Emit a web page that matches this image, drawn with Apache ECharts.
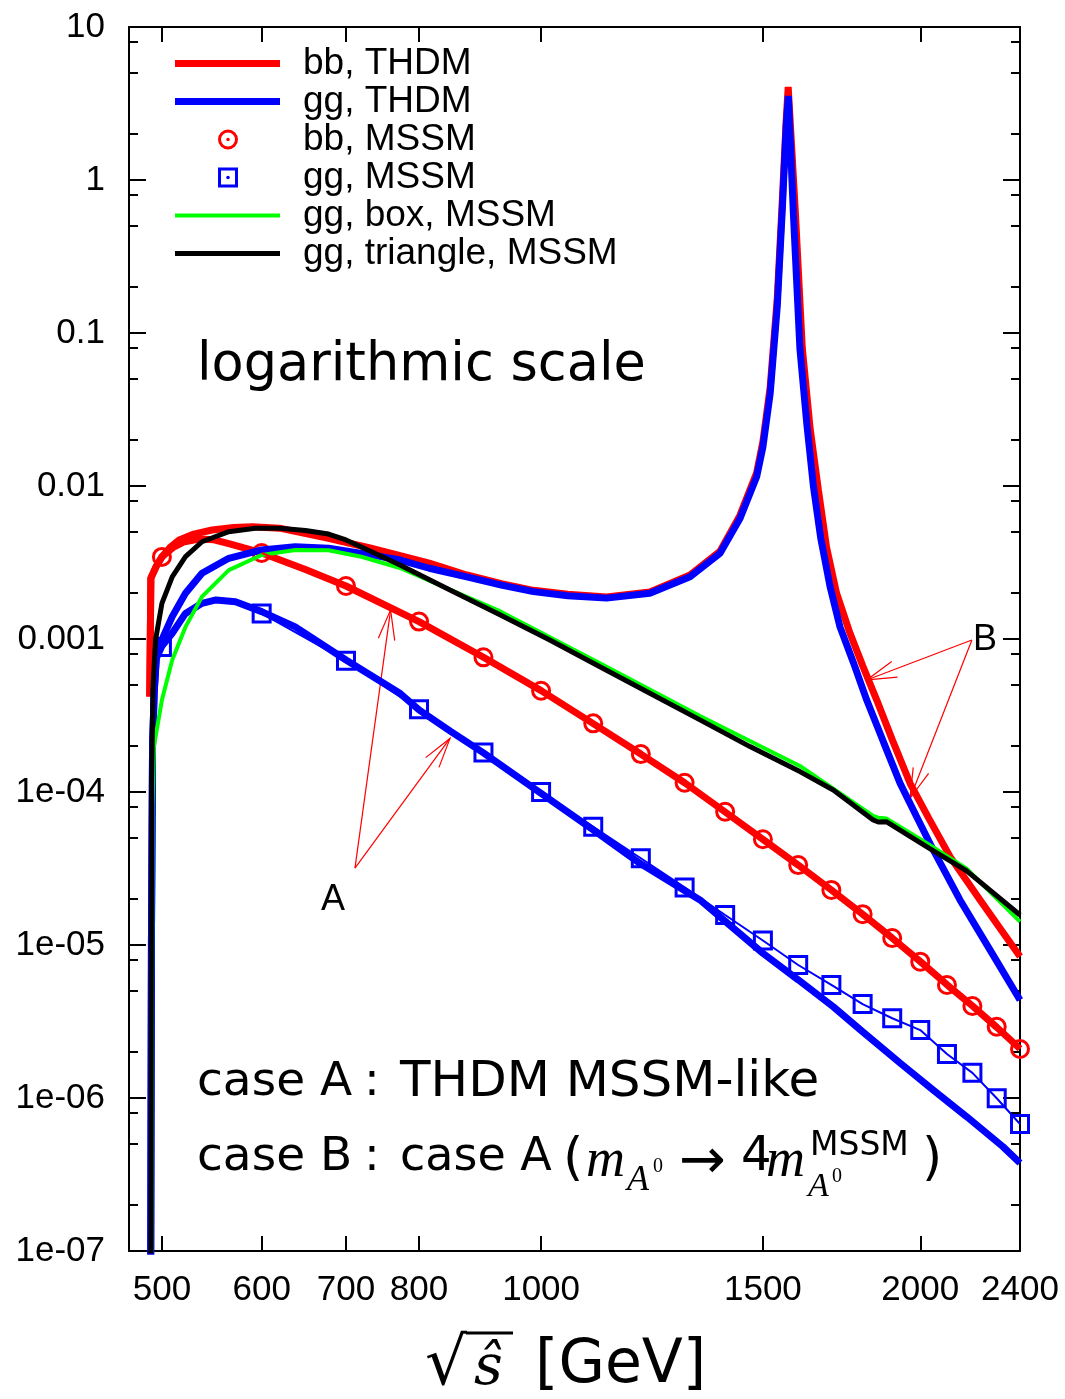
<!DOCTYPE html>
<html>
<head>
<meta charset="utf-8">
<script src="https://cdn.jsdelivr.net/npm/echarts@6/dist/echarts.min.js"></script>
<style>
html, body { margin: 0; padding: 0; background: #fff; }
#main { width: 1065px; height: 1399px; }
</style>
</head>
<body>
<div id="main"></div>
<script>
// sqrt(s) in GeV and cross section values

// bb, THDM  case A
var bbThdmAX = [489, 490, 495, 500, 510, 520, 535, 550, 565, 580, 600, 650, 700, 800, 900, 1000, 1100, 1200, 1300, 1400, 1500, 1600, 1700, 1800, 1900, 2000, 2100, 2200, 2300, 2400];
var bbThdmAY = [4.2e-4, 2.5e-3, 3.0e-3, 3.44e-3, 3.95e-3, 4.3e-3, 4.5e-3, 4.45e-3, 4.2e-3, 3.95e-3, 3.65e-3, 2.85e-3, 2.22e-3, 1.30e-3, 7.6e-4, 4.6e-4, 2.8e-4, 1.77e-4, 1.15e-4, 7.4e-5, 4.9e-5, 3.33e-5, 2.29e-5, 1.59e-5, 1.11e-5, 7.8e-6, 5.5e-6, 4.0e-6, 2.9e-6, 2.1e-6];

// bb, THDM  case B (resonance)
var bbThdmBX = [489, 490, 495, 500, 508, 516, 530, 548, 570, 590, 620, 678, 730, 773, 815, 873, 930, 986, 1050, 1127, 1220, 1313, 1387, 1438, 1483, 1500, 1520, 1540, 1555, 1565, 1571, 1580, 1592, 1612, 1635, 1660, 1685, 1716, 1759, 1800, 1847, 1900, 1963, 2030, 2112, 2231, 2310, 2400];
var bbThdmBY = [4.2e-4, 2.5e-3, 3.0e-3, 3.44e-3, 4.0e-3, 4.44e-3, 4.85e-3, 5.16e-3, 5.35e-3, 5.42e-3, 5.3e-3, 4.55e-3, 3.95e-3, 3.5e-3, 3.13e-3, 2.62e-3, 2.3e-3, 2.08e-3, 1.96e-3, 1.88e-3, 2.03e-3, 2.62e-3, 3.75e-3, 6.4e-3, 1.22e-2, 1.95e-2, 4.4e-2, 0.17, 0.8, 2.4, 4.05, 1.8, 0.6, 8.0e-2, 2.4e-2, 9.5e-3, 4.0e-3, 2.0e-3, 1.09e-3, 6.7e-4, 3.99e-4, 2.2e-4, 1.14e-4, 6.8e-5, 3.78e-5, 1.97e-5, 1.31e-5, 8.4e-6];

// gg, THDM  case A
var ggThdmAX = [489.6, 490.5, 491.5, 493, 495, 500, 509.5, 522, 538, 552, 572, 600, 638, 700, 773, 800, 847, 900, 1000, 1100, 1198, 1337, 1400, 1500, 1600, 1706, 1800, 1928, 2050, 2177, 2326, 2400];
var ggThdmAY = [1e-8, 1e-5, 2.0e-4, 4.5e-4, 7.5e-4, 9.0e-4, 1.09e-3, 1.47e-3, 1.71e-3, 1.80e-3, 1.75e-3, 1.51e-3, 1.20e-3, 7.29e-4, 4.4e-4, 3.44e-4, 2.5e-4, 1.80e-4, 9.8e-5, 5.65e-5, 3.42e-5, 1.97e-5, 1.43e-5, 8.83e-6, 5.92e-6, 3.95e-6, 2.71e-6, 1.69e-6, 1.12e-6, 7.55e-7, 4.81e-7, 3.76e-7];

// gg, THDM  case B (resonance)
var ggThdmBX = [489.6, 490.5, 491.5, 493, 495, 500, 509.5, 522, 538, 565, 600, 638, 678, 725, 773, 815, 873, 930, 986, 1050, 1127, 1220, 1313, 1387, 1438, 1483, 1500, 1520, 1540, 1555, 1565, 1571.4, 1578, 1586, 1605, 1625, 1645, 1667, 1696, 1727, 1770, 1813.5, 1870, 1927.5, 1985, 2048, 2150.6, 2270, 2400];
var ggThdmBY = [1e-8, 1e-5, 2.0e-4, 4.5e-4, 8.0e-4, 9.9e-4, 1.40e-3, 1.99e-3, 2.69e-3, 3.37e-3, 3.82e-3, 4.01e-3, 3.92e-3, 3.6e-3, 3.28e-3, 2.9e-3, 2.55e-3, 2.25e-3, 2.04e-3, 1.92e-3, 1.85e-3, 1.99e-3, 2.55e-3, 3.63e-3, 6.1e-3, 1.15e-2, 1.8e-2, 4.0e-2, 0.15, 0.7, 2.2, 3.54, 1.6, 0.6, 7.9e-2, 2.6e-2, 1.0e-2, 4.6e-3, 2.2e-3, 1.2e-3, 7.0e-4, 3.99e-4, 2.12e-4, 1.14e-4, 7.0e-5, 4.18e-5, 1.97e-5, 9.4e-6, 4.37e-6];

// gg, box, MSSM
var ggBoxX = [490, 491.5, 492.7, 500, 509.5, 522, 538, 565, 600, 638, 678, 720, 772.6, 927.5, 1113.5, 1337, 1605, 1835, 1852, 1881, 2023, 2177, 2400];
var ggBoxY = [1e-8, 8e-5, 1.98e-4, 3.99e-4, 7.29e-4, 1.2e-3, 1.89e-3, 2.82e-3, 3.54e-3, 3.82e-3, 3.8e-3, 3.45e-3, 2.91e-3, 1.52e-3, 6.93e-4, 3.14e-4, 1.48e-4, 6.97e-5, 6.8e-5, 6.7e-5, 4.64e-5, 3.15e-5, 1.42e-5];

// gg, triangle, MSSM
var ggTriX = [489.8, 490.7, 492, 494.2, 500, 509.5, 522, 538, 565, 593, 620, 650, 678, 700, 720, 772.6, 846.6, 927.5, 1016, 1113.5, 1220, 1337, 1465, 1605, 1706, 1835, 1852, 1881, 2023, 2177, 2400];
var ggTriY = [1e-8, 1.2e-4, 5e-4, 9.85e-4, 1.71e-3, 2.55e-3, 3.45e-3, 4.32e-3, 5.03e-3, 5.29e-3, 5.29e-3, 5.12e-3, 4.85e-3, 4.44e-3, 3.99e-3, 3.05e-3, 2.09e-3, 1.44e-3, 9.85e-4, 6.59e-4, 4.42e-4, 2.96e-4, 1.98e-4, 1.36e-4, 1.03e-4, 6.56e-5, 6.37e-5, 6.39e-5, 4.39e-5, 3.05e-5, 1.57e-5];

// MSSM points (markers)
var mssmX = [500, 600, 700, 800, 900, 1000, 1100, 1200, 1300, 1400, 1500, 1600, 1700, 1800, 1900, 2000, 2100, 2200, 2300, 2400];
var bbMssmY = [3.44e-3, 3.65e-3, 2.22e-3, 1.30e-3, 7.59e-4, 4.59e-4, 2.81e-4, 1.77e-4, 1.15e-4, 7.43e-5, 4.91e-5, 3.33e-5, 2.29e-5, 1.59e-5, 1.11e-5, 7.78e-6, 5.48e-6, 3.99e-6, 2.92e-6, 2.09e-6];
var ggMssmY = [8.87e-4, 1.47e-3, 7.22e-4, 3.47e-4, 1.81e-4, 1.00e-4, 5.93e-5, 3.69e-5, 2.38e-5, 1.57e-5, 1.07e-5, 7.40e-6, 5.48e-6, 4.11e-6, 3.32e-6, 2.78e-6, 1.94e-6, 1.46e-6, 9.96e-7, 6.76e-7];

// annotation arrows [x0, y0, x1(tip), y1(tip)]
var arrowsA = [[711.6, 3.18e-5, 759.5, 1.55e-3], [711.6, 3.18e-5, 846.6, 2.24e-4]];
var arrowsB = [[2198, 9.85e-4, 1813.5, 5.4e-4], [2198, 9.85e-4, 1963, 9.1e-5]];

// axis ticks
var xMin = 470.8, xMax = 2400;
var xTickValues = [500, 600, 700, 800, 1000, 1500, 2000];
var xLabelValues = [500, 600, 700, 800, 1000, 1500, 2000, 2400];
var yTickLabels = ['1e-07', '1e-06', '1e-05', '1e-04', '0.001', '0.01', '0.1', '1', '10'];
var yMinorMantissa = [2, 5, 8];

var lg = Math.log10;
function pts(xs, ys) {
    return xs.map(function (x, i) { return [lg(x), lg(ys[i])]; });
}
var yMinorTicks = [];
for (var k = -7; k < 1; k++) {
    yMinorMantissa.forEach(function (m) { yMinorTicks.push(k + lg(m)); });
}

var RED = '#ff0000', BLUE = '#0000ff', GREEN = '#00ff00', BLACK = '#000000';
var tickFont = { fontFamily: 'Liberation Sans', fontSize: 35, color: '#000' };

// legend icons, drawn inside a 123 x 30 box (two tiny corner points pin the box)
var box = 'M0,0L0.01,0L0,0.01Z M123,30L122.99,30L123,29.99Z ';
function barIcon(t) {
    var a = 15 - t / 2, b = 15 + t / 2;
    return 'path://' + box + 'M0,' + a + 'L105,' + a + 'L105,' + b + 'L0,' + b + 'Z';
}
var ringIcon = 'path://' + box +
    'M43,15A10,10,0,1,1,63,15A10,10,0,1,1,43,15Z ' +
    'M46,15A7,7,0,1,0,60,15A7,7,0,1,0,46,15Z ' +
    'M51.2,15A1.8,1.8,0,1,1,54.8,15A1.8,1.8,0,1,1,51.2,15Z';
var squareIcon = 'path://' + box +
    'M43,5L63,5L63,25L43,25Z M46,8L46,22L60,22L60,8Z ' +
    'M51.2,15A1.8,1.8,0,1,1,54.8,15A1.8,1.8,0,1,1,51.2,15Z';

function lineSeries(name, data, color, width) {
    return {
        name: name, type: 'line', data: data,
        showSymbol: false, symbol: 'none', silent: true,
        lineStyle: { color: color, width: width },
        itemStyle: { color: color }
    };
}
function markerSeries(name, ys, color, symbol) {
    return {
        name: name, type: 'scatter', data: pts(mssmX, ys),
        symbol: symbol, symbolSize: 17, silent: true,
        itemStyle: { color: 'transparent', borderColor: color, borderWidth: 3, opacity: 1 }
    };
}
function legendItem(name, icon, color) {
    return { name: name, icon: icon, itemStyle: { color: color, borderWidth: 0, opacity: 1 } };
}
function renderArrow(params, api) {
    var p0 = api.coord([api.value(0), api.value(1)]);
    var p1 = api.coord([api.value(2), api.value(3)]);
    var dx = p1[0] - p0[0], dy = p1[1] - p0[1];
    var len = Math.sqrt(dx * dx + dy * dy);
    var ux = -dx / len, uy = -dy / len;
    var head = 31, c = Math.cos(0.27), s = Math.sin(0.27);
    var h1 = [p1[0] + head * (ux * c - uy * s), p1[1] + head * (ux * s + uy * c)];
    var h2 = [p1[0] + head * (ux * c + uy * s), p1[1] + head * (-ux * s + uy * c)];
    var st = { stroke: RED, lineWidth: 1.2, fill: 'none' };
    return {
        type: 'group',
        children: [
            { type: 'line', shape: { x1: p0[0], y1: p0[1], x2: p1[0], y2: p1[1] }, style: st },
            { type: 'polyline', shape: { points: [h1, p1, h2] }, style: st }
        ]
    };
}
function arrowData(list) {
    return list.map(function (a) { return [lg(a[0]), lg(a[1]), lg(a[2]), lg(a[3])]; });
}

function txt(x, y, text, size, family, extra) {
    var style = { text: text, fontSize: size, fontFamily: family, fill: '#000', align: 'left', verticalAlign: 'middle' };
    if (extra) { for (var key in extra) style[key] = extra[key]; }
    return { type: 'text', x: x, y: y, z: 10, style: style, silent: true };
}
var SANS = 'DejaVu Sans', SERIF = 'Liberation Serif';

var axisLineStyle = { onZero: false, lineStyle: { color: '#000', width: 2 } };

var chart = echarts.init(document.getElementById('main'));
chart.setOption({
    animation: false,
    backgroundColor: '#fff',
    grid: [
        { left: 129, top: 27, width: 891, height: 1224, show: false },
        { left: 129, top: 27, width: 891, height: 1224, show: false }
    ],
    legend: {
        orient: 'vertical', left: 175, top: 45, padding: 0,
        itemWidth: 123, itemHeight: 30, itemGap: 1.0,
        selectedMode: false,
        textStyle: { fontFamily: 'Liberation Sans', fontSize: 37, color: '#000' },
        data: [
            legendItem('bb, THDM', barIcon(7), RED),
            legendItem('gg, THDM', barIcon(7), BLUE),
            legendItem('bb, MSSM', ringIcon, RED),
            legendItem('gg, MSSM', squareIcon, BLUE),
            legendItem('gg, box, MSSM', barIcon(4), GREEN),
            legendItem('gg, triangle, MSSM', barIcon(5), BLACK)
        ]
    },
    xAxis: [
        {
            type: 'value', gridIndex: 0, position: 'bottom',
            min: lg(xMin), max: lg(xMax),
            axisLine: axisLineStyle,
            axisTick: { inside: true, length: 15, customValues: xTickValues.map(lg), lineStyle: { color: '#000', width: 2 } },
            axisLabel: {
                customValues: xLabelValues.map(lg), margin: 22,
                fontFamily: tickFont.fontFamily, fontSize: tickFont.fontSize, color: tickFont.color,
                formatter: function (v) { return String(Math.round(Math.pow(10, v))); }
            },
            splitLine: { show: false }
        },
        {
            type: 'value', gridIndex: 0, position: 'top',
            min: lg(xMin), max: lg(xMax),
            axisLine: axisLineStyle,
            axisTick: { inside: true, length: 15, customValues: xTickValues.map(lg), lineStyle: { color: '#000', width: 2 } },
            axisLabel: { show: false },
            splitLine: { show: false }
        },
        { type: 'value', gridIndex: 1, min: lg(xMin), max: lg(xMax), show: false }
    ],
    yAxis: [
        {
            type: 'value', gridIndex: 0, position: 'left',
            min: -7, max: 1, interval: 1,
            axisLine: axisLineStyle,
            axisTick: { inside: true, length: 17, lineStyle: { color: '#000', width: 2 } },
            axisLabel: {
                margin: 24,
                fontFamily: tickFont.fontFamily, fontSize: tickFont.fontSize, color: tickFont.color,
                formatter: function (v) { return yTickLabels[Math.round(v) + 7]; }
            },
            splitLine: { show: false }
        },
        {
            type: 'value', gridIndex: 0, position: 'right',
            min: -7, max: 1, interval: 1,
            axisLine: axisLineStyle,
            axisTick: { inside: true, length: 17, lineStyle: { color: '#000', width: 2 } },
            axisLabel: { show: false },
            splitLine: { show: false }
        },
        {
            type: 'value', gridIndex: 1, position: 'left',
            min: -7, max: 1,
            axisLine: { show: false, onZero: false },
            axisTick: { inside: true, length: 9, customValues: yMinorTicks, lineStyle: { color: '#000', width: 2 } },
            axisLabel: { show: false },
            splitLine: { show: false }
        },
        {
            type: 'value', gridIndex: 1, position: 'right',
            min: -7, max: 1,
            axisLine: { show: false, onZero: false },
            axisTick: { inside: true, length: 9, customValues: yMinorTicks, lineStyle: { color: '#000', width: 2 } },
            axisLabel: { show: false },
            splitLine: { show: false }
        }
    ],
    series: [
        lineSeries('bb, THDM', pts(bbThdmAX, bbThdmAY), RED, 7),
        lineSeries('bb, THDM', pts(bbThdmBX, bbThdmBY), RED, 7),
        lineSeries('gg, THDM', pts(ggThdmAX, ggThdmAY), BLUE, 7),
        lineSeries('gg, THDM', pts(ggThdmBX, ggThdmBY), BLUE, 7),
        lineSeries('gg, box, MSSM', pts(ggBoxX, ggBoxY), GREEN, 4),
        lineSeries('gg, triangle, MSSM', pts(ggTriX, ggTriY), BLACK, 5),
        // thin lines joining the MSSM points (the first one sits on the threshold rise)
        lineSeries('bb, MSSM line', pts(mssmX.slice(1), bbMssmY.slice(1)), RED, 2),
        lineSeries('gg, MSSM line', pts(mssmX.slice(1), ggMssmY.slice(1)), BLUE, 2),
        markerSeries('bb, MSSM', bbMssmY, RED, 'circle'),
        markerSeries('gg, MSSM', ggMssmY, BLUE, 'rect'),
        {
            name: 'arrows', type: 'custom', silent: true,
            data: arrowData(arrowsA.concat(arrowsB)),
            renderItem: renderArrow
        }
    ],
    graphic: [
        txt(333, 900, 'A', 36, 'Liberation Sans', { align: 'center' }),
        txt(985, 640, 'B', 36, 'Liberation Sans', { align: 'center' }),
        txt(197, 366, 'logarithmic scale', 52.5, SANS),
        txt(197, 1083, 'case A', 47, SANS),
        txt(364, 1083, ':', 47, SANS),
        txt(400, 1083, 'THDM MSSM-like', 50, SANS),
        txt(197, 1158, 'case B', 47, SANS),
        txt(364, 1158, ':', 47, SANS),
        txt(400, 1158, 'case A', 46, SANS),
        txt(563, 1160, '(', 52, SANS),
        txt(586, 1162, 'm', 54, SERIF, { fontStyle: 'italic' }),
        txt(627, 1181, 'A', 36, SERIF, { fontStyle: 'italic' }),
        txt(653, 1167, '0', 20, SERIF),
        txt(679, 1163, '\u2192', 56, SANS),
        txt(741, 1158, '4', 48, SANS),
        txt(766, 1162, 'm', 54, SERIF, { fontStyle: 'italic' }),
        txt(810, 1146, 'MSSM', 33, SANS),
        txt(808, 1187, 'A', 34, SERIF, { fontStyle: 'italic' }),
        txt(832, 1177, '0', 20, SERIF),
        txt(922, 1160, ')', 52, SANS),
        // x axis title: sqrt(s-hat) [GeV]
        txt(425, 1367, '\u221A', 66, SANS),
        { type: 'line', z: 10, silent: true, shape: { x1: 466, y1: 1333, x2: 513, y2: 1333 }, style: { stroke: '#000', lineWidth: 3 } },
        txt(474, 1369, '\u015D', 56, 'DejaVu Serif', { fontStyle: 'italic' }),
        txt(535, 1366, '[GeV]', 60, SANS)
    ]
});
</script>
</body>
</html>
